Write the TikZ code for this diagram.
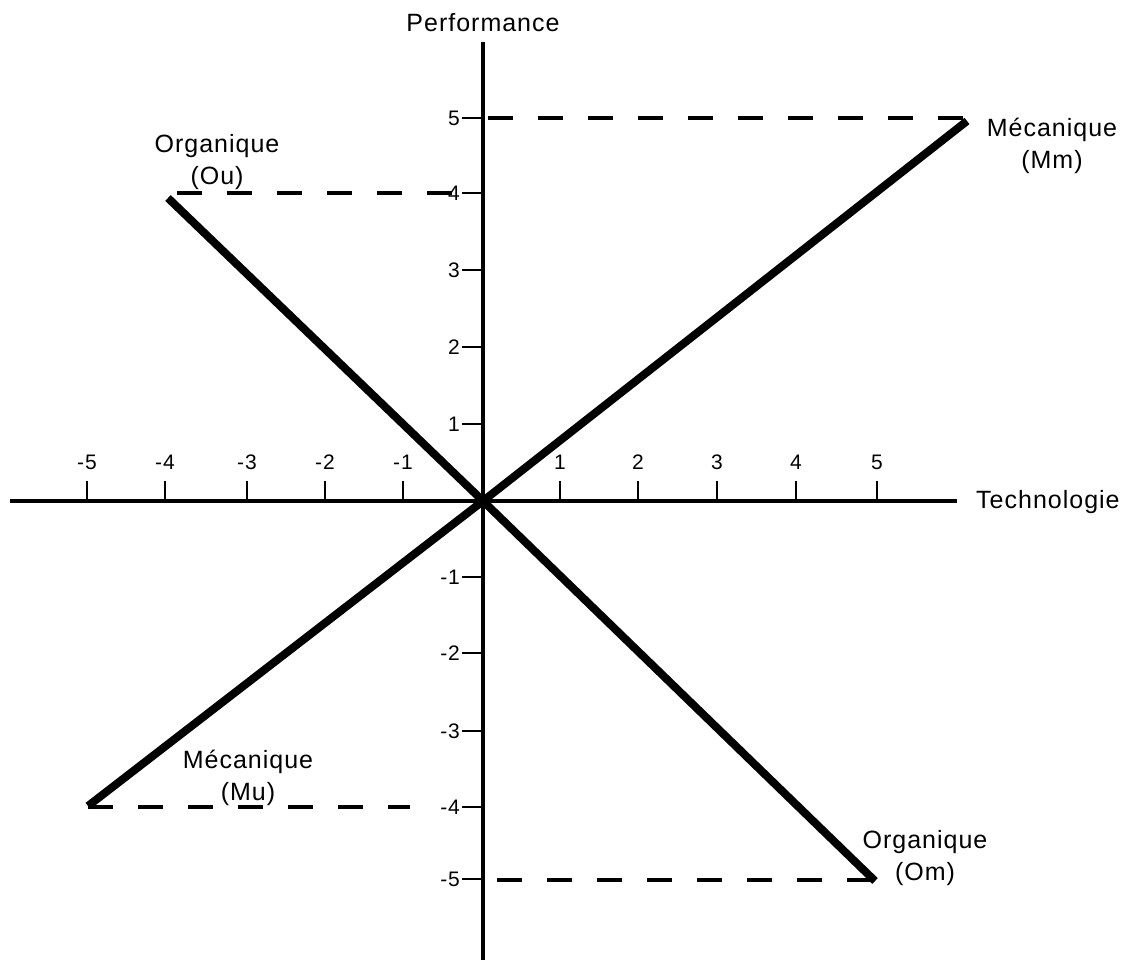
\documentclass[tikz,border=0pt]{standalone}
\usepackage{fontspec}
\setmainfont{Liberation Sans}[LetterSpace=4]
\begin{document}
\begin{tikzpicture}[x=1pt,y=-1pt,
  axis/.style={line width=3.2pt},
  tickmark/.style={line width=2.8pt},
  guide/.style={line width=3.8pt,dash pattern=on 25pt off 25pt},
  curve/.style={line width=8pt},
  lbl/.style={inner sep=0pt,align=center,font=\fontsize{25}{32}\selectfont},
  ticklbl/.style={inner sep=0pt,font=\fontsize{21}{24}\selectfont}]
\useasboundingbox (0,0) rectangle (1132,960);
% axes
\coordinate (O) at (483,501);
\coordinate (xl) at (10,501);
\coordinate (xr) at (957,501);
\coordinate (yt) at (483,42);
\coordinate (yb) at (483,960);
\draw[axis] (xl) -- (xr);
\draw[axis] (yt) -- (yb);
\node[lbl,anchor=south] (perf) at (483,32) {Performance};
\node[lbl,anchor=west] (tech) at (976,502) {Technologie};
% x ticks
\foreach \v/\px in {-5/87,-4/165,-3/247,-2/325,-1/403,1/560,2/638,3/717,4/796,5/877}{
  \coordinate (xt\v) at (\px,501);
  \draw[tickmark] (xt\v) -- ++(0,-20);
  \node[ticklbl] (xlab\v) at (\px,462) {\v};
}
% y ticks
\foreach \v/\py in {5/118,4/193,3/270,2/347,1/424,-1/577,-2/653,-3/731,-4/807,-5/879}{
  \coordinate (yt\v) at (483,\py);
  \draw[tickmark] (yt\v) -- ++(-21,0);
  \node[ticklbl,anchor=east] (ylab\v) at (460,\py) {\v};
}
% end points
\coordinate (Mm) at (967,121);
\coordinate (Ou) at (168,198);
\coordinate (Mu) at (88,806);
\coordinate (Om) at (875,881);
% dashed guides
\coordinate (gMm) at (488,118);
\coordinate (gOu) at (177,193);
\coordinate (gOu2) at (453,193);
\coordinate (gMu) at (88,807);
\coordinate (gMu2) at (410,807);
\coordinate (gOm) at (497,880);
\draw[guide] (gMm) -- (Mm |- gMm);
\draw[guide] (gOu) -- (gOu2);
\draw[guide] (gMu) -- (gMu2);
\draw[guide] (gOm) -- (Om |- gOm);
% thick lines
\draw[curve] (O) -- (Mm);
\draw[curve] (O) -- (Ou);
\draw[curve] (O) -- (Mu);
\draw[curve] (O) -- (Om);
% labels
\node[lbl] (lMm) at (1052,146) {Mécanique\\(Mm)};
\node[lbl] (lOu) at (217,162) {Organique\\(Ou)};
\node[lbl] (lMu) at (248,778) {Mécanique\\(Mu)};
\node[lbl] (lOm) at (925,858) {Organique\\(Om)};
\end{tikzpicture}
\end{document}
